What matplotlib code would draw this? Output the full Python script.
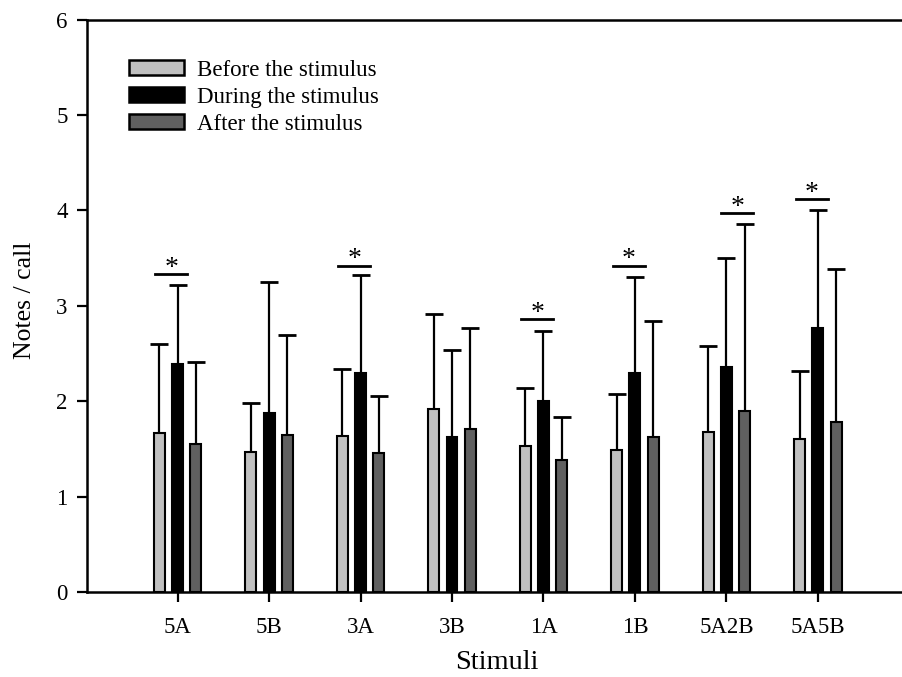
import matplotlib
matplotlib.use("Agg")
import matplotlib.pyplot as plt
import numpy as np
from matplotlib.patches import Rectangle

categories = ["5A", "5B", "3A", "3B", "1A", "1B", "5A2B", "5A5B"]
before = [1.67, 1.47, 1.64, 1.92, 1.53, 1.49, 1.68, 1.60]
before_err = [0.93, 0.51, 0.70, 0.99, 0.61, 0.59, 0.90, 0.72]
during = [2.39, 1.88, 2.30, 1.62, 2.00, 2.30, 2.36, 2.77]
during_err = [0.83, 1.37, 1.02, 0.92, 0.74, 1.00, 1.14, 1.23]
after = [1.55, 1.65, 1.46, 1.71, 1.38, 1.62, 1.90, 1.78]
after_err = [0.86, 1.04, 0.59, 1.06, 0.45, 1.22, 1.96, 1.61]
series_labels = ["Before the stimulus", "During the stimulus", "After the stimulus"]
colors = ["#c0c0c0", "#000000", "#606060"]
# significance markers: (category index, line height, horizontal offset)
sig_idx = [0, 2, 4, 5, 6, 7]
sig_height = [3.33, 3.42, 2.86, 3.42, 3.97, 4.12]
sig_offset = [-0.07, -0.07, -0.07, -0.07, 0.12, -0.07]

plt.rcParams['font.family'] = ['Liberation Serif', 'DejaVu Serif']

W, H = 903, 677
fig = plt.figure(figsize=(W / 100, H / 100), dpi=100)
ax = fig.add_axes([87 / W, 1 - 592 / H, 1 - 87 / W, (592 - 19.5) / H])

x = np.arange(len(categories))
off = 0.2
w = 0.12
data = [(before, before_err), (during, during_err), (after, after_err)]
for i, ((vals, errs), c) in enumerate(zip(data, colors)):
    xs = x + (i - 1) * off
    vals = np.array(vals)
    errs = np.array(errs)
    ax.bar(xs, vals, width=w, color=c, edgecolor='black', linewidth=1.5, zorder=2)
    ax.errorbar(xs, vals, yerr=[np.zeros(len(vals)), errs], fmt='none',
                ecolor='black', elinewidth=1.6, capsize=0, zorder=1)
    ax.plot(xs, vals + errs, linestyle='none', marker='_', markersize=13,
            markeredgewidth=2.0, color='black', zorder=1)

for idx, h, o in zip(sig_idx, sig_height, sig_offset):
    cx = idx + o
    ax.plot([cx - 0.175, cx + 0.175], [h, h], color='black', lw=2.0)
    ax.text(cx, h + 0.06, "*", ha='center', va='center', fontsize=20)

ax.set_xlim(-0.99, 7.93)
ax.set_ylim(0, 6)
ax.set_xticks(x)
ax.set_xticklabels(categories)
ax.set_yticks(range(0, 7))
ax.tick_params(axis='both', labelsize=16.5, width=1.6, length=7, direction='out')
ax.tick_params(axis='x', pad=11)
ax.tick_params(axis='y', pad=7)
for s in ['left', 'bottom', 'top']:
    ax.spines[s].set_linewidth(1.8)
ax.spines['right'].set_visible(False)

ax.set_xlabel("Stimuli", fontsize=20.5)
ax.set_ylabel("Notes / call", fontsize=18.5)
ax.xaxis.set_label_coords((497 - 87) / (W - 87), (592 - 650) / (592 - 19.5))
ax.yaxis.set_label_coords((36 - 87) / (W - 87), (592 - 300) / (592 - 19.5))

# legend drawn in figure pixel positions
box_tops = [60, 87, 114]
for top, c, lab in zip(box_tops, colors, series_labels):
    fig.patches.append(Rectangle((129 / W, 1 - (top + 15) / H), 55 / W, 15 / H,
                                 facecolor=c, edgecolor='black', linewidth=1.8,
                                 transform=fig.transFigure, figure=fig))
    fig.text(197 / W, 1 - (top + 7.5) / H, lab, ha='left', va='center_baseline',
             fontsize=16.5)

fig.savefig("out.png", dpi=100)
